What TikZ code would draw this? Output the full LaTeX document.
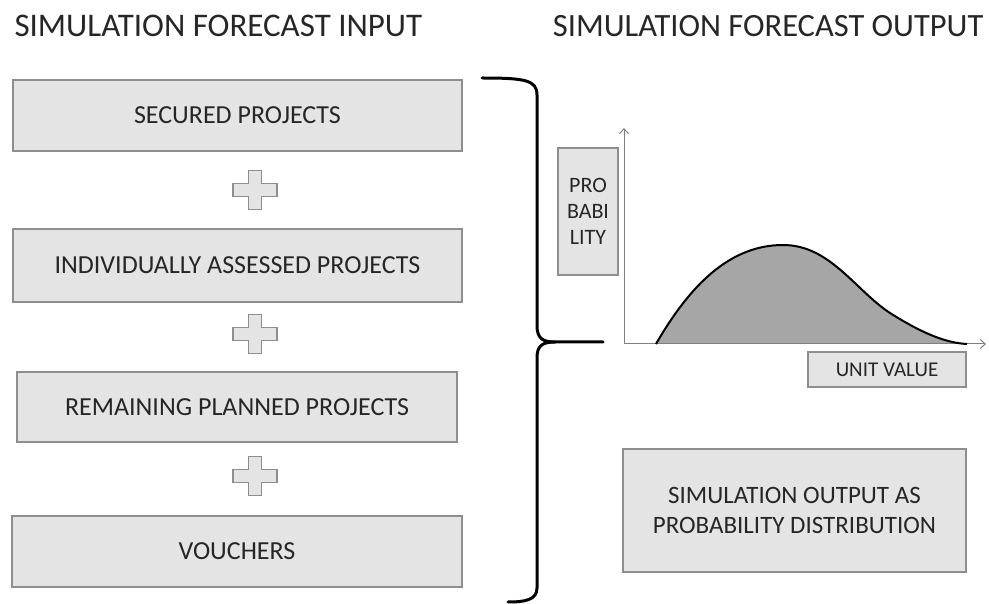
\documentclass[tikz,border=0pt]{standalone}
\usepackage{fontspec}
\setmainfont{Carlito}
\usetikzlibrary{positioning,arrows.meta}
\definecolor{boxgray}{HTML}{E4E4E4}
\definecolor{edgegray}{HTML}{8E8E8E}
\definecolor{areagray}{HTML}{A6A6A6}
\definecolor{textgray}{HTML}{262626}
\tikzset{
  inputbox/.style={draw=edgegray,fill=boxgray,line width=2pt,inner sep=0pt,
    text=textgray,font=\fontsize{26}{29}\selectfont},
  plussign/.pic={\draw[edgegray,fill=boxgray,line width=1.5pt]
    (-6.5,-19.5) -- (6.5,-19.5) -- (6.5,-6.5) -- (22,-6.5) -- (22,6.5) -- (6.5,6.5)
    -- (6.5,19.5) -- (-6.5,19.5) -- (-6.5,6.5) -- (-22,6.5) -- (-22,-6.5) -- (-6.5,-6.5) -- cycle;},
  bracket/.style={line width=3pt,line cap=round},
  axis/.style={draw=edgegray!90!black,line width=1pt,-{Straight Barb[length=5pt,width=9pt]}}
}
\begin{document}
\begin{tikzpicture}[x=1pt,y=-1pt]
    \useasboundingbox (0,0) rectangle (989,604);
    % titles
    \node[anchor=base west,font=\fontsize{33}{36}\selectfont,text=textgray] (intitle) at (11,37) {SIMULATION FORECAST INPUT};
    \node[anchor=base east,font=\fontsize{32.5}{36}\selectfont,text=textgray] (outtitle) at (987,37) {SIMULATION FORECAST OUTPUT};
    % input boxes
    \node[inputbox,minimum width=449pt,minimum height=71pt] (secured) at (237.5,115.5) {SECURED PROJECTS};
    \node[inputbox,minimum width=449pt,minimum height=73pt] (assessed) at (237.5,265.5) {INDIVIDUALLY ASSESSED PROJECTS};
    \node[inputbox,minimum width=440pt,minimum height=70pt] (remaining) at (237,407) {REMAINING PLANNED PROJECTS};
    \node[inputbox,minimum width=450pt,minimum height=71pt] (vouchers) at (237,551.5) {VOUCHERS};
    \foreach \y in {190,334,476}
        \pic at (255,\y) {plussign}; % plus signs
    % brace
    \coordinate (tip) at (603,342);
    \draw[bracket] (482,78) .. controls (525,78) and (537,80) .. (537,95) -- (537,325)
        .. controls (537,338) and (542,342) .. (555,342) -- (tip);
    \draw[bracket] (555,342) .. controls (542,342) and (537,346) .. (537,358) -- (537,588)
        .. controls (537,600) and (525,602) .. (508,602);
    % distribution
    \coordinate (origin) at (624,344);
    \coordinate (ytop) at (624,128);
    \coordinate (xend) at (986,344);
    \fill[areagray] (656,344) .. controls (690,285) and (730,245) .. (783,245)
        .. controls (830,245) and (855,290) .. (890,313)
        .. controls (920,332) and (945,343) .. (967,344) -- cycle;
    \draw[axis] (origin) -- (ytop); % y-axis
    \draw[axis] (origin) -- (xend); % x-axis
    \draw[line width=2pt] (656,344) .. controls (690,285) and (730,245) .. (783,245)
        .. controls (830,245) and (855,290) .. (890,313)
        .. controls (920,332) and (945,343) .. (967,344); % curve
    \node[inputbox,minimum width=60pt,minimum height=127pt,align=center,
        font=\fontsize{22}{26}\selectfont] (prob) at (588,211.5) {PRO\\BABI\\LITY};
    \node[inputbox,minimum width=158pt,minimum height=35pt,font=\fontsize{21}{24}\selectfont] (unit) at (887,369.5) {UNIT VALUE};
    \node[inputbox,minimum width=343pt,minimum height=123pt,align=center,
        font=\fontsize{25}{30}\selectfont] (result) at (794.5,510.5) {SIMULATION OUTPUT AS\\PROBABILITY DISTRIBUTION};
\end{tikzpicture}
\end{document}
